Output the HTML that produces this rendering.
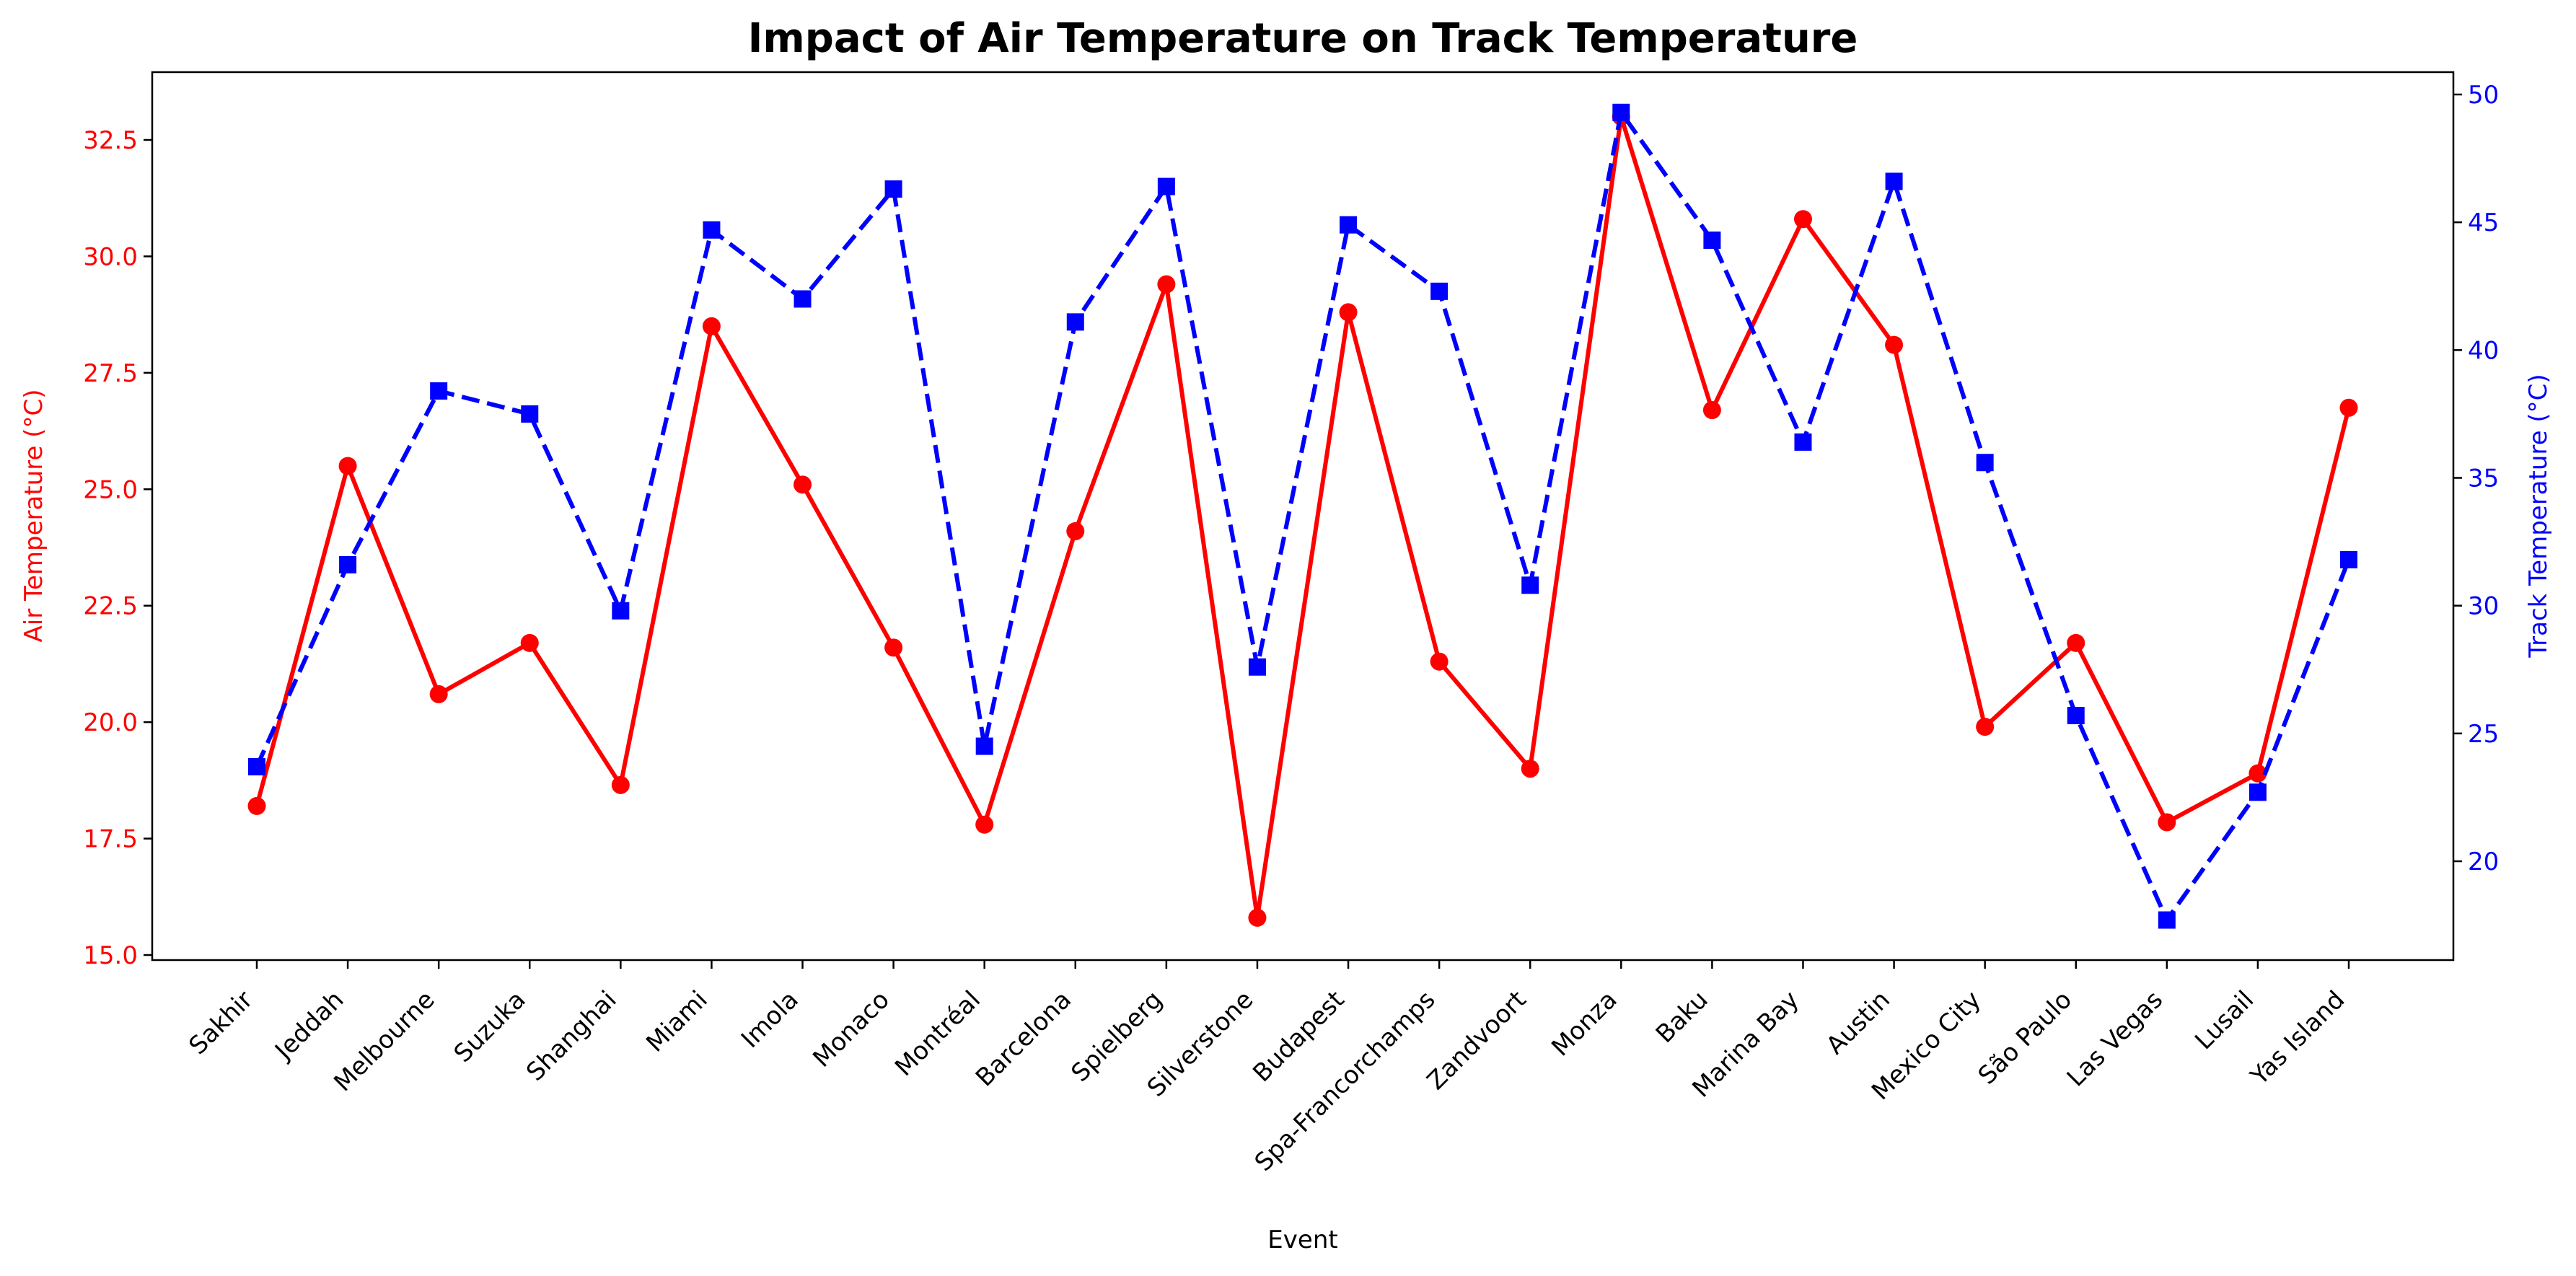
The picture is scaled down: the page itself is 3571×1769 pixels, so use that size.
<!DOCTYPE html>
<html><head><meta charset="utf-8"><style>
html,body{margin:0;padding:0;background:#fff;}
svg{display:block;font-family:"DejaVu Sans","Liberation Sans",sans-serif;}
</style></head><body>
<svg id="chart" width="3571" height="1769" viewBox="0 0 3571 1769" xmlns="http://www.w3.org/2000/svg">
<rect width="3571" height="1769" fill="#fff"/>
<text x="1806" y="72" text-anchor="middle" font-size="56" font-weight="bold">Impact of Air Temperature on Track Temperature</text>
<g id="plot"></g>
<text x="1806" y="1730" text-anchor="middle" font-size="34">Event</text>
<text transform="translate(58,715) rotate(-90)" text-anchor="middle" font-size="34" fill="red">Air Temperature (°C)</text>
<text transform="translate(3530,715) rotate(-90)" text-anchor="middle" font-size="34" fill="blue">Track Temperature (°C)</text>
</svg>
<script>
const events = ["Sakhir","Jeddah","Melbourne","Suzuka","Shanghai","Miami","Imola","Monaco","Montréal","Barcelona","Spielberg","Silverstone","Budapest","Spa-Francorchamps","Zandvoort","Monza","Baku","Marina Bay","Austin","Mexico City","São Paulo","Las Vegas","Lusail","Yas Island"];
const airTemp = [18.2,25.5,20.6,21.7,18.65,28.5,25.1,21.6,17.8,24.1,29.4,15.8,28.8,21.3,19.0,33.0,26.7,30.8,28.1,19.9,21.7,17.85,18.9,26.75];
const trackTemp = [23.7,31.6,38.4,37.5,29.8,44.7,42.0,46.3,24.5,41.1,46.4,27.6,44.9,42.3,30.8,49.3,44.3,36.4,46.6,35.6,25.7,17.7,22.7,31.8];
const leftTicks = [15.0,17.5,20.0,22.5,25.0,27.5,30.0,32.5];
const rightTicks = [20,25,30,35,40,45,50];

const NS="http://www.w3.org/2000/svg";
const L=211,R=3401,T=100,B=1331;
const n=events.length;
const x=i=>L+(R-L)*(i+1.15)/(n-1+2.3);
const yL=v=>1324+(v-15)*(194-1324)/17.5;
const yR=v=>1194+(v-20)*(131-1194)/30;
const g=document.getElementById('plot');
function mk(tag,attrs,parent){const e=document.createElementNS(NS,tag);for(const k in attrs)e.setAttribute(k,attrs[k]);(parent||g).appendChild(e);return e;}

leftTicks.forEach(v=>{
  const y=yL(v);
  const t=mk('line',{x1:L-12,x2:L,y1:y,y2:y,stroke:'#000','stroke-width':2.5});
  
  
  const tx=mk('text',{x:L-20,y:y+12,'text-anchor':'end','font-size':34,fill:'red'});
  tx.textContent=v.toFixed(1);
  
  
});
rightTicks.forEach(v=>{
  const y=yR(v);
  const t=mk('line',{x1:R,x2:R+12,y1:y,y2:y,stroke:'#000','stroke-width':2.5});
  
  
  const tx=mk('text',{x:R+20,y:y+12,'text-anchor':'start','font-size':34,fill:'blue'});
  tx.textContent=String(v);
  
  
});
events.forEach((e,i)=>{
  const xx=x(i);
  const t=mk('line',{x1:xx,x2:xx,y1:B,y2:B+12,stroke:'#000','stroke-width':2.5});
  
  
  const tx=mk('text',{transform:`translate(${xx-4},${1388}) rotate(-45)`,'text-anchor':'end','font-size':34,fill:'#000'});
  tx.textContent=e;
  
  
});

const airPts=airTemp.map((v,i)=>x(i)+','+yL(v)).join(' ');
const al=mk('polyline',{points:airPts,fill:'none',stroke:'red','stroke-width':6,'stroke-linejoin':'round'});


airTemp.forEach((v,i)=>{
  const c=mk('circle',{cx:x(i),cy:yL(v),r:12.5,fill:'red'});
  
  
});
const trPts=trackTemp.map((v,i)=>x(i)+','+yR(v)).join(' ');
const tl=mk('polyline',{points:trPts,fill:'none',stroke:'blue','stroke-width':6,'stroke-dasharray':'25 11','stroke-linejoin':'round'});


trackTemp.forEach((v,i)=>{
  const s=mk('rect',{x:x(i)-12,y:yR(v)-12,width:24,height:24,fill:'blue'});
  
  
});
const frame=mk('rect',{x:L,y:T,width:R-L,height:B-T,fill:'none',stroke:'#000','stroke-width':2.5});


</script>
</body></html>
